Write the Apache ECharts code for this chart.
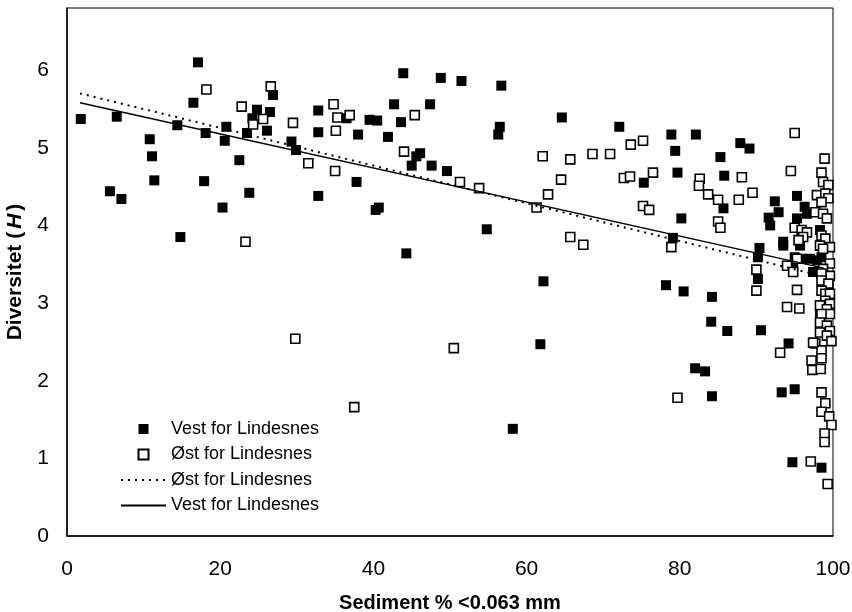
<!DOCTYPE html>
<html>
<head>
<meta charset="utf-8">
<script src="https://cdn.jsdelivr.net/npm/echarts@6/dist/echarts.min.js"></script>
<style>
    html, body { margin: 0; padding: 0; background: #fff; }
    #container { width: 852px; height: 612px; }
</style>
</head>
<body>
<div id="container"></div>
<script type="text/javascript">

    // filled squares - Vest for Lindesnes [sediment %, H]
    var vestPoints = [
        [1.8,5.37],[5.6,4.44],[6.5,5.40],[7.1,4.34],[10.8,5.11],[11.1,4.89],[11.4,4.58],[14.4,5.29],[14.8,3.85],
        [16.5,5.58],[17.1,6.10],[17.9,4.57],[18.1,5.19],[20.3,4.23],[20.6,5.09],[20.8,5.27],[22.5,4.84],[23.5,5.19],
        [23.8,4.42],[24.2,5.38],[24.8,5.49],[26.1,5.22],[26.5,5.46],[26.9,5.68],[29.3,5.08],[29.9,4.97],
        [32.8,5.48],[32.8,5.20],[32.8,4.38],[36.5,5.38],[38.0,5.17],[37.8,4.56],[39.5,5.36],[40.5,5.35],[40.3,4.20],
        [40.7,4.23],[41.9,5.14],[42.7,5.56],[43.6,5.33],[43.9,5.96],[45.0,4.77],[45.6,4.89],[46.1,4.93],[47.4,5.56],
        [47.6,4.77],[48.8,5.90],[49.6,4.70],[51.5,5.86],[44.3,3.64],[54.8,3.95],[56.7,5.80],[56.5,5.27],[56.3,5.17],
        [62.2,3.28],[64.6,5.39],[58.2,1.38],[61.8,2.47],
        [72.1,5.27],[78.9,5.17],[79.4,4.96],[82.1,5.17],[79.7,4.68],[75.3,4.55],[80.2,4.09],[79.1,3.84],[85.3,4.88],
        [85.8,4.64],[85.7,4.22],[87.9,5.06],[89.1,4.99],[90.4,3.71],[90.2,3.59],[90.2,3.31],[92.4,4.31],[92.9,4.17],
        [91.6,4.10],[91.8,4.00],[93.5,3.79],[95.3,4.38],[96.3,4.24],[96.6,4.15],[95.3,4.09],[98.3,3.94],[93.5,3.74],
        [95.7,3.74],[95.0,3.59],[96.1,3.57],[97.0,3.57],[97.9,3.55],[98.5,3.59],[94.8,3.46],[97.4,3.40],
        [78.2,3.23],[80.5,3.15],[84.2,3.08],[84.1,2.76],[86.2,2.64],[90.6,2.65],[94.2,2.48],[82.0,2.16],[83.3,2.12],
        [84.2,1.80],[93.3,1.85],[95.0,1.89],[94.7,0.95],[98.5,0.88],[98.3,2.84]
    ];

    // open squares - Øst for Lindesnes
    var ostPoints = [
        [18.2,5.75],[22.8,5.53],[24.3,5.30],[25.6,5.37],[26.6,5.79],[23.3,3.79],[29.5,5.32],[29.8,2.54],[31.5,4.80],
        [34.8,5.56],[35.3,5.39],[35.1,5.22],[36.9,5.42],[35.0,4.70],[44.0,4.95],[45.4,5.42],[51.3,4.56],[53.8,4.48],
        [61.3,4.23],[62.1,4.89],[65.7,4.85],[64.5,4.59],[62.8,4.40],[65.7,3.85],[50.5,2.42],[37.5,1.66],
        [67.4,3.75],[68.6,4.92],[70.9,4.92],[73.6,5.04],[75.2,5.09],[72.7,4.61],[73.5,4.63],[76.5,4.68],[75.2,4.25],
        [76.0,4.20],[78.9,3.72],[82.6,4.60],[82.5,4.51],[83.7,4.40],[85.0,4.33],[88.1,4.62],[87.7,4.33],[89.5,4.42],
        [85.0,4.05],[85.3,3.97],[95.0,5.19],[94.5,4.70],[90.0,3.43],[90.0,3.16],[95.3,3.17],[98.9,4.86],
        [94.0,2.95],[95.6,2.93],[93.1,2.36],[79.7,1.78],[97.1,0.96],[99.3,0.67],
        [97.7,2.48],[98.5,2.39],[97.2,2.26],[98.5,2.29],[97.3,2.14],[98.4,2.15],[98.5,1.85],[99.0,1.71],[98.5,1.60],
        [99.5,1.54],[99.8,1.43],[98.9,1.32],[98.9,1.21],
        [98.5,4.68],[98.7,4.56],[99.4,4.52],[97.9,4.39],[99.0,4.41],[99.4,4.35],[98.5,4.30],[97.7,4.17],[98.7,4.15],
        [99.2,4.09],[95.0,3.97],[95.9,3.94],[96.6,3.91],[96.1,3.85],[98.5,3.87],[99.0,3.83],[95.5,3.81],[98.3,3.74],
        [99.6,3.72],[98.7,3.70],[95.3,3.57],[94.0,3.48],[99.6,3.51],[98.7,3.44],[99.6,3.35],[98.5,3.38],[94.8,3.40],
        [98.5,3.29],[99.4,3.25],[98.5,3.16],[99.0,3.12],[99.6,3.12],[99.0,3.03],[99.6,2.99],[98.3,2.97],[99.2,2.92],
        [99.6,2.86],[98.5,2.86],[98.3,2.75],[99.2,2.71],[99.6,2.64],[98.3,2.62],[99.2,2.58],[99.8,2.51],[97.4,2.49]
    ];

    // regression lines (end points)
    var ostLine = [[1.7, 5.70], [98.5, 3.35]];
    var vestLine = [[1.7, 5.58], [98.8, 3.45]];

    var xTicks = [0, 20, 40, 60, 80, 100];
    var yTicks = [0, 1, 2, 3, 4, 5, 6];

    var font = 'Liberation Sans, Arial, Helvetica, sans-serif';
    var squareIcon = 'path://M0,0L10,0L10,10L0,10Z';

    var dom = document.getElementById("container");
    var myChart = echarts.init(dom, null, {renderer: 'canvas'});

    var option = {
        animation: false,
        backgroundColor: '#fff',
        textStyle: {fontFamily: font, color: '#000'},
        grid: {
            left: 67, right: 19, top: 8, bottom: 76,
            containLabel: false,
            outerBoundsMode: 'none',
            show: true, borderColor: '#000', borderWidth: 1
        },
        legend: {
            orient: 'vertical',
            left: 115,
            top: 415,
            itemWidth: 45,
            itemHeight: 10,
            itemGap: 7.5,
            symbolKeepAspect: true,
            textStyle: {fontSize: 18, color: '#000', fontFamily: font},
            formatter: function (name) { return name.trim(); },
            data: [
                {name: 'Vest for Lindesnes', icon: squareIcon},
                {name: 'Øst for Lindesnes', icon: squareIcon},
                {name: 'Øst for Lindesnes ', itemStyle: {opacity: 0}},
                {name: 'Vest for Lindesnes ', itemStyle: {opacity: 0}}
            ]
        },
        xAxis: {
            type: 'value',
            min: xTicks[0],
            max: xTicks[xTicks.length - 1],
            interval: 20,
            name: 'Sediment % <0.063 mm',
            nameLocation: 'middle',
            nameGap: 57,
            nameTextStyle: {fontSize: 20, fontWeight: 'bold', color: '#000', fontFamily: font},
            axisLine: {lineStyle: {color: '#000', width: 1.5}},
            axisTick: {show: false},
            splitLine: {show: false},
            axisLabel: {fontSize: 21, color: '#000', margin: 23, fontFamily: font}
        },
        yAxis: {
            type: 'value',
            min: yTicks[0],
            max: 6.8,
            interval: 1,
            name: '{b|Diversitet (}{i|H}{b|)}',
            nameLocation: 'middle',
            nameGap: 41,
            nameTextStyle: {
                rich: {
                    b: {fontSize: 21, fontWeight: 'bold', color: '#000', fontFamily: font},
                    i: {fontSize: 21, fontWeight: 'bold', fontStyle: 'italic', color: '#000', fontFamily: font, padding: [0, 3, 0, 3]}
                }
            },
            axisLine: {lineStyle: {color: '#000', width: 1.5}},
            axisTick: {show: false},
            splitLine: {show: false},
            axisLabel: {
                fontSize: 21, color: '#000', margin: 18, fontFamily: font, showMaxLabel: false,
                formatter: function (v) { return yTicks.indexOf(v) >= 0 ? String(v) : ''; }
            }
        },
        series: [
            {
                name: 'Vest for Lindesnes',
                type: 'scatter',
                symbol: 'rect',
                symbolSize: 10,
                itemStyle: {color: '#000', opacity: 1},
                data: vestPoints
            },
            {
                name: 'Øst for Lindesnes',
                type: 'scatter',
                symbol: 'rect',
                symbolSize: 9,
                itemStyle: {color: '#fff', borderColor: '#000', borderWidth: 1.6, opacity: 1},
                data: ostPoints
            },
            {
                name: 'Øst for Lindesnes ',
                type: 'line',
                symbol: 'none',
                itemStyle: {color: '#000'},
                lineStyle: {color: '#000', width: 2, type: [2, 5]},
                data: ostLine
            },
            {
                name: 'Vest for Lindesnes ',
                type: 'line',
                symbol: 'none',
                itemStyle: {color: '#000'},
                lineStyle: {color: '#000', width: 1.5},
                data: vestLine
            }
        ]
    };

    myChart.setOption(option, true);
</script>
</body>
</html>
